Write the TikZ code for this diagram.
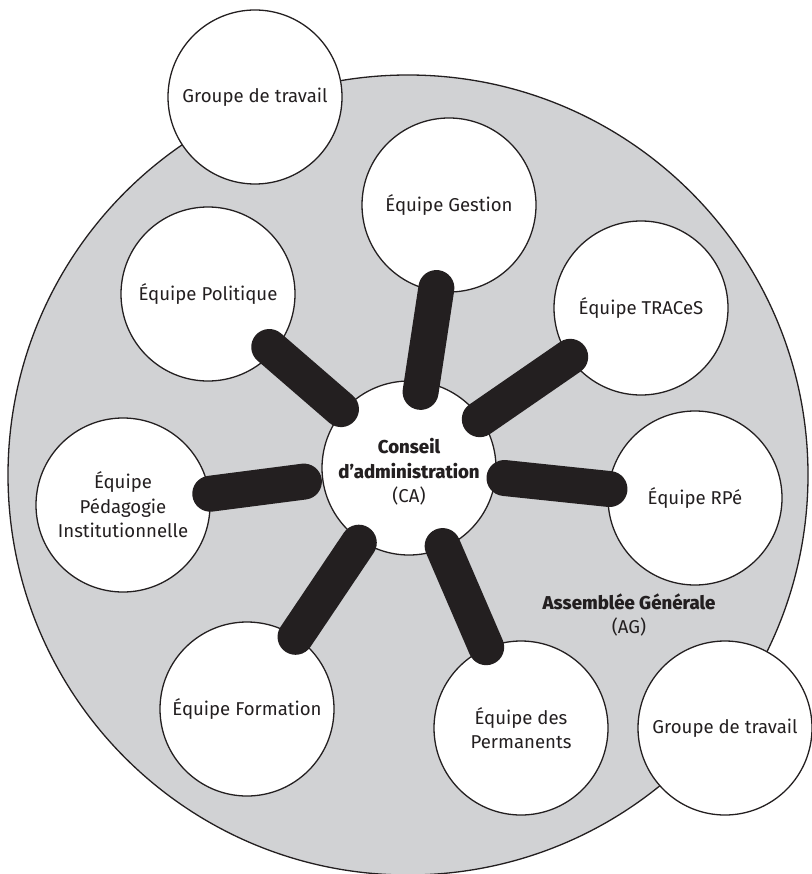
\documentclass[tikz,border=0pt]{standalone}
\usepackage{fontspec}
\setmainfont{Fira Sans}
\IfFontExistsTF{Fira Sans Heavy}
  {\newfontfamily\heavyfont{Fira Sans Heavy}\def\heavyshape{}}
  {\IfFontExistsTF{Fira Sans ExtraBold}
    {\newfontfamily\heavyfont{Fira Sans ExtraBold}\def\heavyshape{}}
    {\newfontfamily\heavyfont{Fira Sans}[LetterSpace=3]\def\heavyshape{\bfseries}}}
\definecolor{ink}{HTML}{231F20}
\definecolor{aggray}{HTML}{D1D2D4}
\newcommand{\heavytext}[1]{{\heavyfont\heavyshape #1}}
\begin{document}
\begin{tikzpicture}[x=1pt,y=-1pt,
  ring/.style={circle, draw=ink, line width=1.3pt, inner sep=0pt},
  labeltext/.style={align=center, text=ink, font=\fontsize{18.6}{24.5}\selectfont},
  sat/.style={ring, fill=white, minimum size=174pt, labeltext},
  bar/.style={draw=ink, line width=36pt, line cap=round}]
\useasboundingbox (0,0) rectangle (811,874);
\node[ring, fill=aggray, minimum size=800pt] (AG) at (408,475) {};
\node[sat] (GT1) at (255,97) {Groupe de travail};
\node[sat] (Gestion) at (449,205) {Équipe Gestion};
\node[sat] (Pol) at (208,294) {Équipe Politique};
\node[sat] (TRACeS) at (641,308) {Équipe TRACeS};
\node[sat] (RPe) at (695,498) {Équipe RPé};
\node[sat] (EPI) at (123,505) {Équipe\\Pédagogie\\Institutionnelle};
\node[sat] (Formation) at (247,709) {Équipe Formation};
\node[sat] (Perm) at (521,728) {Équipe des\\Permanents};
\node[sat] (GT2) at (725,728) {Groupe de travail};
\node[sat, label={[name=CAtext, labeltext, yshift=-4pt]center:\heavytext{Conseil}\\\heavytext{d’administration}\\(CA)}] (CA) at (409,468) {};
\draw[bar, shorten <=90pt, shorten >=81pt] (CA.center) -- (Pol.center);
\draw[bar, shorten <=77pt, shorten >=84pt] (CA.center) -- (Gestion.center);
\draw[bar, shorten <=86pt, shorten >=86pt] (CA.center) -- (TRACeS.center);
\draw[bar, shorten <=96pt, shorten >=86pt] (CA.center) -- (RPe.center);
\draw[bar, shorten <=106pt, shorten >=88pt] (CA.center) -- (EPI.center);
\draw[bar, shorten <=90pt, shorten >=87pt] (CA.center) -- (Formation.center);
\draw[bar, shorten <=85pt, shorten >=88pt] (CA.center) -- (Perm.center);
\node[labeltext] (AGlabel) at (629,615) {\heavytext{Assemblée Générale}\\(AG)};
\end{tikzpicture}
\end{document}
